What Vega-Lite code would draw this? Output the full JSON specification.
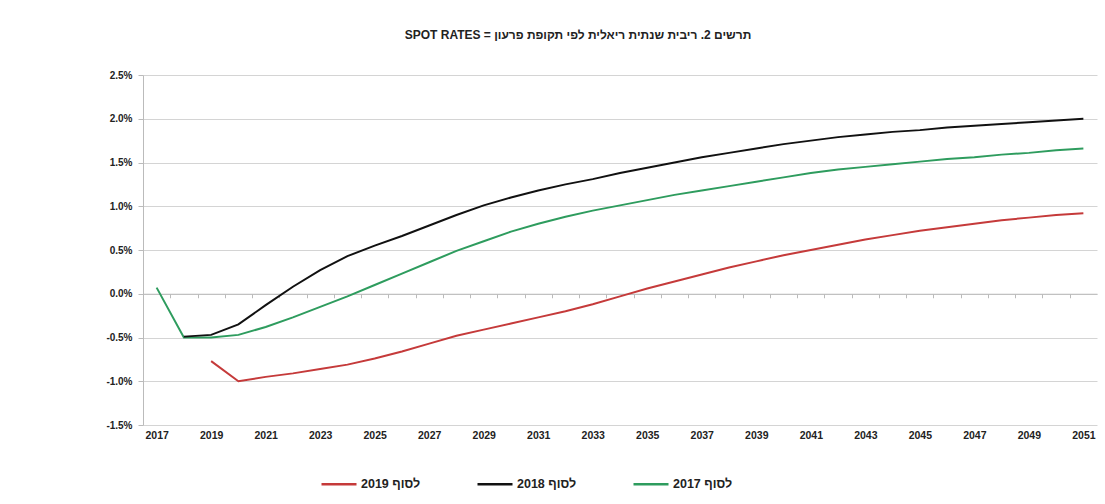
{
  "$schema": "https://vega.github.io/schema/vega-lite/v6.json",
  "width": 954,
  "height": 350,
  "autosize": {"type": "none"},
  "padding": {"left": 143, "top": 75, "right": 8, "bottom": 79},
  "background": "white",
  "title": {
    "text": "SPOT RATES = תרשים 2.  ריבית שנתית ריאלית לפי תקופת פרעון",
    "font": "'Liberation Sans', 'DejaVu Sans', sans-serif",
    "fontSize": 12,
    "fontWeight": "bold",
    "color": "#222222",
    "anchor": "middle",
    "offset": 28,
    "dx": -42
  },
  "config": {
    "view": {"stroke": null},
    "font": "'Liberation Sans', 'DejaVu Sans', sans-serif"
  },
  "data": {
    "values": [
      {"year": 2017, "series": "לסוף 2017", "rate": 0.07},
      {"year": 2018, "series": "לסוף 2017", "rate": -0.50},
      {"year": 2019, "series": "לסוף 2017", "rate": -0.50},
      {"year": 2020, "series": "לסוף 2017", "rate": -0.47},
      {"year": 2021, "series": "לסוף 2017", "rate": -0.38},
      {"year": 2022, "series": "לסוף 2017", "rate": -0.27},
      {"year": 2023, "series": "לסוף 2017", "rate": -0.15},
      {"year": 2024, "series": "לסוף 2017", "rate": -0.03},
      {"year": 2025, "series": "לסוף 2017", "rate": 0.10},
      {"year": 2026, "series": "לסוף 2017", "rate": 0.23},
      {"year": 2027, "series": "לסוף 2017", "rate": 0.36},
      {"year": 2028, "series": "לסוף 2017", "rate": 0.49},
      {"year": 2029, "series": "לסוף 2017", "rate": 0.60},
      {"year": 2030, "series": "לסוף 2017", "rate": 0.71},
      {"year": 2031, "series": "לסוף 2017", "rate": 0.80},
      {"year": 2032, "series": "לסוף 2017", "rate": 0.88},
      {"year": 2033, "series": "לסוף 2017", "rate": 0.95},
      {"year": 2034, "series": "לסוף 2017", "rate": 1.01},
      {"year": 2035, "series": "לסוף 2017", "rate": 1.07},
      {"year": 2036, "series": "לסוף 2017", "rate": 1.13},
      {"year": 2037, "series": "לסוף 2017", "rate": 1.18},
      {"year": 2038, "series": "לסוף 2017", "rate": 1.23},
      {"year": 2039, "series": "לסוף 2017", "rate": 1.28},
      {"year": 2040, "series": "לסוף 2017", "rate": 1.33},
      {"year": 2041, "series": "לסוף 2017", "rate": 1.38},
      {"year": 2042, "series": "לסוף 2017", "rate": 1.42},
      {"year": 2043, "series": "לסוף 2017", "rate": 1.45},
      {"year": 2044, "series": "לסוף 2017", "rate": 1.48},
      {"year": 2045, "series": "לסוף 2017", "rate": 1.51},
      {"year": 2046, "series": "לסוף 2017", "rate": 1.54},
      {"year": 2047, "series": "לסוף 2017", "rate": 1.56},
      {"year": 2048, "series": "לסוף 2017", "rate": 1.59},
      {"year": 2049, "series": "לסוף 2017", "rate": 1.61},
      {"year": 2050, "series": "לסוף 2017", "rate": 1.64},
      {"year": 2051, "series": "לסוף 2017", "rate": 1.66},

      {"year": 2018, "series": "לסוף 2018", "rate": -0.49},
      {"year": 2019, "series": "לסוף 2018", "rate": -0.47},
      {"year": 2020, "series": "לסוף 2018", "rate": -0.35},
      {"year": 2021, "series": "לסוף 2018", "rate": -0.13},
      {"year": 2022, "series": "לסוף 2018", "rate": 0.08},
      {"year": 2023, "series": "לסוף 2018", "rate": 0.27},
      {"year": 2024, "series": "לסוף 2018", "rate": 0.43},
      {"year": 2025, "series": "לסוף 2018", "rate": 0.55},
      {"year": 2026, "series": "לסוף 2018", "rate": 0.66},
      {"year": 2027, "series": "לסוף 2018", "rate": 0.78},
      {"year": 2028, "series": "לסוף 2018", "rate": 0.90},
      {"year": 2029, "series": "לסוף 2018", "rate": 1.01},
      {"year": 2030, "series": "לסוף 2018", "rate": 1.10},
      {"year": 2031, "series": "לסוף 2018", "rate": 1.18},
      {"year": 2032, "series": "לסוף 2018", "rate": 1.25},
      {"year": 2033, "series": "לסוף 2018", "rate": 1.31},
      {"year": 2034, "series": "לסוף 2018", "rate": 1.38},
      {"year": 2035, "series": "לסוף 2018", "rate": 1.44},
      {"year": 2036, "series": "לסוף 2018", "rate": 1.50},
      {"year": 2037, "series": "לסוף 2018", "rate": 1.56},
      {"year": 2038, "series": "לסוף 2018", "rate": 1.61},
      {"year": 2039, "series": "לסוף 2018", "rate": 1.66},
      {"year": 2040, "series": "לסוף 2018", "rate": 1.71},
      {"year": 2041, "series": "לסוף 2018", "rate": 1.75},
      {"year": 2042, "series": "לסוף 2018", "rate": 1.79},
      {"year": 2043, "series": "לסוף 2018", "rate": 1.82},
      {"year": 2044, "series": "לסוף 2018", "rate": 1.85},
      {"year": 2045, "series": "לסוף 2018", "rate": 1.87},
      {"year": 2046, "series": "לסוף 2018", "rate": 1.90},
      {"year": 2047, "series": "לסוף 2018", "rate": 1.92},
      {"year": 2048, "series": "לסוף 2018", "rate": 1.94},
      {"year": 2049, "series": "לסוף 2018", "rate": 1.96},
      {"year": 2050, "series": "לסוף 2018", "rate": 1.98},
      {"year": 2051, "series": "לסוף 2018", "rate": 2.00},

      {"year": 2019, "series": "לסוף 2019", "rate": -0.77},
      {"year": 2020, "series": "לסוף 2019", "rate": -1.00},
      {"year": 2021, "series": "לסוף 2019", "rate": -0.95},
      {"year": 2022, "series": "לסוף 2019", "rate": -0.91},
      {"year": 2023, "series": "לסוף 2019", "rate": -0.86},
      {"year": 2024, "series": "לסוף 2019", "rate": -0.81},
      {"year": 2025, "series": "לסוף 2019", "rate": -0.74},
      {"year": 2026, "series": "לסוף 2019", "rate": -0.66},
      {"year": 2027, "series": "לסוף 2019", "rate": -0.57},
      {"year": 2028, "series": "לסוף 2019", "rate": -0.48},
      {"year": 2029, "series": "לסוף 2019", "rate": -0.41},
      {"year": 2030, "series": "לסוף 2019", "rate": -0.34},
      {"year": 2031, "series": "לסוף 2019", "rate": -0.27},
      {"year": 2032, "series": "לסוף 2019", "rate": -0.20},
      {"year": 2033, "series": "לסוף 2019", "rate": -0.12},
      {"year": 2034, "series": "לסוף 2019", "rate": -0.03},
      {"year": 2035, "series": "לסוף 2019", "rate": 0.06},
      {"year": 2036, "series": "לסוף 2019", "rate": 0.14},
      {"year": 2037, "series": "לסוף 2019", "rate": 0.22},
      {"year": 2038, "series": "לסוף 2019", "rate": 0.30},
      {"year": 2039, "series": "לסוף 2019", "rate": 0.37},
      {"year": 2040, "series": "לסוף 2019", "rate": 0.44},
      {"year": 2041, "series": "לסוף 2019", "rate": 0.50},
      {"year": 2042, "series": "לסוף 2019", "rate": 0.56},
      {"year": 2043, "series": "לסוף 2019", "rate": 0.62},
      {"year": 2044, "series": "לסוף 2019", "rate": 0.67},
      {"year": 2045, "series": "לסוף 2019", "rate": 0.72},
      {"year": 2046, "series": "לסוף 2019", "rate": 0.76},
      {"year": 2047, "series": "לסוף 2019", "rate": 0.80},
      {"year": 2048, "series": "לסוף 2019", "rate": 0.84},
      {"year": 2049, "series": "לסוף 2019", "rate": 0.87},
      {"year": 2050, "series": "לסוף 2019", "rate": 0.90},
      {"year": 2051, "series": "לסוף 2019", "rate": 0.92}
    ]
  },
  "mark": {"type": "line", "strokeWidth": 2, "interpolate": "linear"},
  "encoding": {
    "x": {
      "field": "year",
      "type": "quantitative",
      "scale": {"domain": [2016.5, 2051.5], "nice": false, "zero": false},
      "axis": {
        "title": null,
        "grid": false,
        "values": [2017, 2018, 2019, 2020, 2021, 2022, 2023, 2024, 2025, 2026, 2027, 2028, 2029, 2030, 2031, 2032, 2033, 2034, 2035, 2036, 2037, 2038, 2039, 2040, 2041, 2042, 2043, 2044, 2045, 2046, 2047, 2048, 2049, 2050, 2051, 2052],
        "labelExpr": "datum.value % 2 == 1 && datum.value < 2052 ? '' + datum.value : ''",
        "offset": -131.25,
        "tickOffset": -13.63,
        "labelOffset": 13.63,
        "tickSize": 4,
        "tickColor": "#bbbbbb",
        "domainColor": "#bbbbbb",
        "labelPadding": 133,
        "labelFontSize": 10.5,
        "labelFontWeight": "bold",
        "labelColor": "#222222",
        "labelOverlap": false,
        "labelFlush": false
      }
    },
    "y": {
      "field": "rate",
      "type": "quantitative",
      "scale": {"domain": [-1.5, 2.5], "nice": false, "zero": false},
      "axis": {
        "title": null,
        "values": [-1.5, -1, -0.5, 0, 0.5, 1, 1.5, 2, 2.5],
        "labelExpr": "(datum.value < 0 ? '-' : '') + format(abs(datum.value), '.1f') + '%'",
        "grid": true,
        "gridColor": "#d4d4d4",
        "gridWidth": 1,
        "domainColor": "#bbbbbb",
        "tickColor": "#bbbbbb",
        "tickSize": 5,
        "labelPadding": 6,
        "labelFontSize": 10,
        "labelFontWeight": "bold",
        "labelColor": "#222222"
      }
    },
    "color": {
      "field": "series",
      "type": "nominal",
      "scale": {
        "domain": ["לסוף 2019", "לסוף 2018", "לסוף 2017"],
        "range": ["#c53a3a", "#111111", "#2e9c5e"]
      },
      "legend": {
        "title": null,
        "orient": "none",
        "legendX": 177,
        "legendY": 390,
        "direction": "horizontal",
        "symbolType": "stroke",
        "symbolSize": 1225,
        "symbolStrokeWidth": 2.5,
        "labelFontSize": 12.5,
        "labelFontWeight": "bold",
        "labelColor": "#222222",
        "labelOffset": 3,
        "columnPadding": 51
      }
    }
  }
}
